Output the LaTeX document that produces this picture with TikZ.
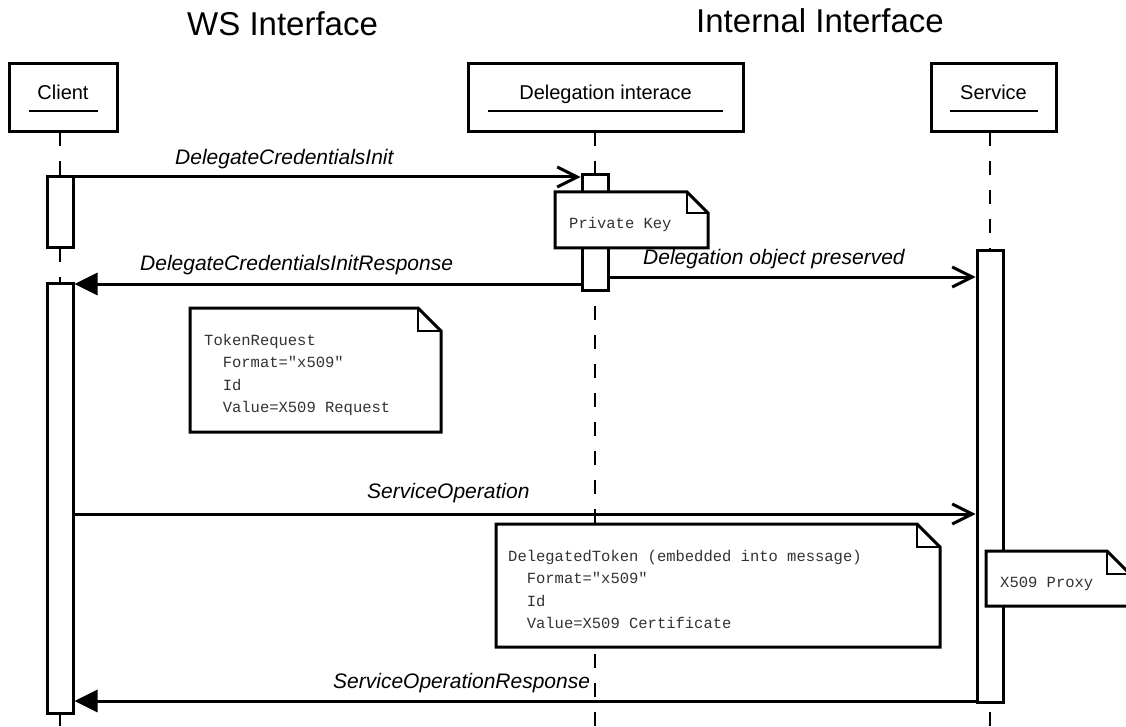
\documentclass[tikz,border=0pt]{standalone}
\usepackage{fontspec}
\setmainfont{Liberation Sans}
\setmonofont{Liberation Mono}
\usetikzlibrary{arrows.meta}

\tikzset{
  title/.style={font=\fontsize{33}{38}\selectfont, inner sep=0pt},
  lifebox/.style={draw, line width=3pt, fill=white, minimum height=68pt, inner sep=0pt},
  boxname/.style={font=\fontsize{20}{24}\selectfont, inner sep=0pt, anchor=base},
  nameline/.style={line width=1.5pt},
  lifeline/.style={line width=1.5pt, dash pattern=on 14pt off 15pt},
  actbar/.style={draw, line width=3pt, fill=white, minimum width=26pt, inner sep=0pt},
  msgcall/.style={line width=3pt, -{Straight Barb[length=20pt,width=20pt]}},
  msgret/.style={line width=3pt, -{Triangle[length=23pt,width=22pt]}},
  msglabel/.style={font=\fontsize{21}{25}\selectfont\itshape, inner sep=0pt, anchor=base west},
  notetext/.style={font=\fontsize{15.5}{22.5}\selectfont\ttfamily, text=black!80, inner sep=0pt, anchor=base west, align=left}
}

% folded note: x1, y1, x2, y2, fold
\newcommand{\notebox}[5]{%
  \draw[line width=3pt, fill=white] (#1,#2) -- (#3-#5,#2) -- (#3,#2+#5) -- (#3,#4) -- (#1,#4) -- cycle;
  \draw[line width=1.5pt] (#3-#5,#2) -- (#3-#5,#2+#5) -- (#3,#2+#5);
}
\newcommand{\ind}{\phantom{xx}}

\begin{document}
\begin{tikzpicture}[x=1pt,y=-1pt]
  \clip (0,0) rectangle (1126,727);
  \fill[white] (0,0) rectangle (1126,727);

  % Titles
  \node[title, anchor=base west] (wstitle) at (187,36) {WS Interface};
  \node[title, anchor=base west] (inttitle) at (696,33) {Internal Interface};

  % Lifelines
  \foreach \x in {60, 595, 990} {
    \draw[lifeline] (\x,132) -- (\x,727);
  }

  % Participants
  \node[lifebox, minimum width=108pt] (client) at (63,98) {};
  \node[lifebox, minimum width=275pt] (deleg) at (605.5,98) {};
  \node[lifebox, minimum width=125pt] (service) at (993.5,98) {};
  \node[boxname] (clientname) at (63,100) {Client};
  \node[boxname] (delegname) at (605.5,100) {Delegation interace};
  \node[boxname] (servicename) at (993.5,100) {Service};
  \draw[nameline] (29,111) -- (98,111);
  \draw[nameline] (488,111) -- (723,111);
  \draw[nameline] (950,111) -- (1038,111);

  % Activations
  \node[actbar, minimum height=71pt] (cact1) at (60,212.5) {};
  \node[actbar, minimum height=430pt] (cact2) at (60,498) {};
  \node[actbar, minimum height=115pt] (dact) at (595,232.5) {};
  \node[actbar, minimum height=451pt] (sact) at (990,476.5) {};

  % Message levels
  \coordinate (m1) at (0,177);
  \coordinate (m2) at (0,284);
  \coordinate (m3) at (0,277);
  \coordinate (m4) at (0,514);
  \coordinate (m5) at (0,701);

  % Messages
  \draw[msgcall] (cact1.east |- m1) -- (dact.west |- m1);
  \draw[msgret] (dact.west |- m2) -- (cact2.east |- m2);
  \draw[msgcall] (dact.east |- m3) -- (sact.west |- m3);
  \draw[msgcall] (cact2.east |- m4) -- (sact.west |- m4);
  \draw[msgret] (sact.west |- m5) -- (cact2.east |- m5);

  \node[msglabel] (m1label) at (175,165) {DelegateCredentialsInit};
  \node[msglabel] (m2label) at (140,270) {DelegateCredentialsInitResponse};
  \node[msglabel] (m3label) at (643,264) {Delegation object preserved};
  \node[msglabel] (m4label) at (367,498) {ServiceOperation};
  \node[msglabel] (m5label) at (333,688) {ServiceOperationResponse};

  % Notes (multi-line texts placed by their last baseline)
  \notebox{555}{192}{708}{248}{21}
  \node[notetext] (keynote) at (569,229) {Private Key};

  \notebox{190}{308}{441}{432}{23}
  \node[notetext] (reqnote) at (204,412.5) {TokenRequest\\ \ind Format="x509"\\ \ind Id\\ \ind Value=X509 Request};

  \notebox{496}{524}{940}{647}{23}
  \node[notetext] (tokennote) at (508,628.5) {DelegatedToken (embedded into message)\\ \ind Format="x509"\\ \ind Id\\ \ind Value=X509 Certificate};

  \notebox{986}{551}{1130}{606}{23}
  \node[notetext] (proxynote) at (1000,587) {X509 Proxy};
\end{tikzpicture}
\end{document}
